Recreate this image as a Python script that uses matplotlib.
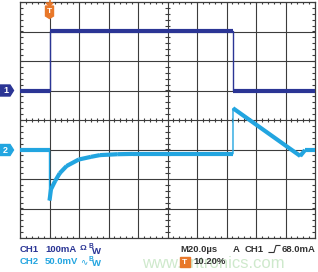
import matplotlib
matplotlib.use("Agg")
import matplotlib.pyplot as plt
import numpy as np
from matplotlib.collections import LineCollection
from matplotlib.patches import Polygon, Rectangle

# ---- data (time in divisions, amplitude in divisions) ----
ch1_t = [0.0, 1.0, 1.0, 7.22, 7.22, 10.0]
ch1_v = [1.0, 1.0, 3.03, 3.03, 1.0, 1.0]

ch2_t = [0.0, 1.0, 1.0, 1.05, 1.19, 1.35, 1.58, 1.99, 2.4, 2.71, 3.3, 3.83, 7.22, 7.22, 9.5, 9.66, 10.0]
ch2_v = [-1.02, -1.02, -2.73, -2.35, -2.07, -1.8, -1.56, -1.34, -1.25, -1.19, -1.16, -1.15, -1.15, 0.40, -1.22, -1.02, -1.02]

ch1_label = ["CH1", "100mA"]
ch2_label = ["CH2", "50.0mV"]
timebase = "M20.0\u00b5s"
trig_src = ["A", "CH1", "68.0mA"]
trig_pos = "10.20%"

NAVY = "#2b3595"
CYAN = "#22a5e0"
ORANGE = "#e8782a"
GRID = "#3c3c3c"

W, H = 318, 272
fig = plt.figure(figsize=(W / 100, H / 100), dpi=100)
fig.patch.set_facecolor("white")

L, R, T, B = 20, 315, 2, 238
ax = fig.add_axes([L / W, 1 - B / H, (R - L) / W, (B - T) / H])
ax.set_xlim(0, 10)
ax.set_ylim(-4, 4)
ax.set_xticks([]); ax.set_yticks([])
for s in ax.spines.values():
    s.set_color(GRID); s.set_linewidth(0.9)

# grid
for x in range(1, 10):
    ax.axvline(x, color=GRID, lw=0.8, zorder=1)
for y in range(-3, 4):
    ax.axhline(y, color=GRID, lw=0.8, zorder=1)

# minor ticks
tl = 0.1
sub = np.arange(0, 10.01, 0.2)
suby = np.arange(-4, 4.01, 0.2)
segs = []
for x in sub:
    segs.append([(x, 4), (x, 4 - tl * 0.8)])
    segs.append([(x, -4), (x, -4 + tl * 0.8)])
    segs.append([(x, -tl * 0.8), (x, tl * 0.8)])
for y in suby:
    segs.append([(0, y), (tl, y)])
    segs.append([(10, y), (10 - tl, y)])
    segs.append([(5 - tl, y), (5 + tl, y)])
ax.add_collection(LineCollection(segs, colors=GRID, linewidths=0.8, zorder=1))


def trace(t, v, color):
    ax.plot(t, v, color=color, lw=1.0, zorder=3, solid_joinstyle="miter")
    thick = [[(t[i], v[i]), (t[i + 1], v[i + 1])] for i in range(len(t) - 1) if t[i + 1] != t[i]]
    ax.add_collection(LineCollection(thick, colors=color, linewidths=3.0, capstyle="butt", zorder=3))


trace(ch1_t, ch1_v, NAVY)
trace(ch2_t, ch2_v, CYAN)

# ---- overlay in figure pixel coords ----
ov = fig.add_axes([0, 0, 1, 1], facecolor="none")
ov.set_xlim(0, W); ov.set_ylim(H, 0); ov.axis("off")

# channel markers
for y, c, lab in [(90.5, NAVY, "1"), (150, CYAN, "2")]:
    ov.add_patch(Polygon([(0, y - 5.5), (10, y - 5.5), (13.5, y), (10, y + 5.5), (0, y + 5.5)],
                         closed=True, color=c, zorder=5))
    ov.text(5.5, y + 0.3, lab, color="white", fontsize=6.5, fontweight="bold",
            ha="center", va="center", family="Liberation Sans", zorder=6)

# trigger marker at top
tx = 49.5
ov.plot([tx, tx], [0, 4], color=ORANGE, lw=1.2, zorder=5)
ov.add_patch(Polygon([(tx - 3.5, 3), (tx + 3.5, 3), (tx, 6)], closed=True, color=ORANGE, zorder=5))
ov.add_patch(Polygon([(tx - 4, 6), (tx + 4, 6), (tx + 4, 16), (tx, 18.5), (tx - 4, 16)],
                     closed=True, color=ORANGE, zorder=5))
ov.text(tx, 11.3, "T", color="white", fontsize=6, fontweight="bold", ha="center", va="center",
        family="Liberation Sans", zorder=6)

# watermark
ov.text(213, 263, "www.cntronics.com", color="#9fd49a", alpha=0.5, fontsize=12,
        ha="center", va="center", family="Liberation Sans", zorder=2)

fs = 6.8
fam = ["Liberation Sans", "DejaVu Sans"]
y1, y2 = 249, 262
ov.text(20, y1, ch1_label[0], color=NAVY, fontsize=fs, fontweight="bold", va="center", family=fam)
ov.text(45, y1, ch1_label[1], color=NAVY, fontsize=fs, fontweight="bold", va="center", family=fam)
ov.text(80, y1, "\u03a9", color=NAVY, fontsize=fs - 0.8, fontweight="bold", va="center", family=fam)
ov.text(88.5, y1 - 2.5, "B", color=NAVY, fontsize=4.8, fontweight="bold", va="center", family=fam)
ov.text(91.5, y1 + 2, "W", color=NAVY, fontsize=fs, fontweight="bold", va="center", family=fam)

ov.text(20, y2, ch2_label[0], color=CYAN, fontsize=fs, fontweight="bold", va="center", family=fam)
ov.text(45, y2, ch2_label[1], color=CYAN, fontsize=fs, fontweight="bold", va="center", family=fam)
ov.text(80.5, y2, "\u223f", color=CYAN, fontsize=fs - 0.5, va="center", family=["DejaVu Sans"])
ov.text(88.5, y2 - 2.5, "B", color=CYAN, fontsize=4.8, fontweight="bold", va="center", family=fam)
ov.text(91.5, y2 + 2, "W", color=CYAN, fontsize=fs, fontweight="bold", va="center", family=fam)

DARK = "#333333"
ov.text(180, y1, timebase, color=DARK, fontsize=fs, fontweight="bold", va="center", family=fam)
ov.text(233, y1, trig_src[0], color=DARK, fontsize=fs, fontweight="bold", va="center", family=fam)
ov.text(245, y1, trig_src[1], color=DARK, fontsize=fs, fontweight="bold", va="center", family=fam)
# rising-edge symbol
ov.plot([269, 274, 276, 280], [y1 + 3.5, y1 + 3.5, y1 - 3.5, y1 - 3.5], color=DARK, lw=0.8)
ov.text(282, y1, trig_src[2], color=DARK, fontsize=fs, fontweight="bold", va="center", family=fam)

ov.add_patch(Rectangle((180, 257), 9.5, 10, color=ORANGE, zorder=5))
ov.text(184.8, 262.3, "T", color="white", fontsize=6, fontweight="bold", ha="center", va="center",
        family="Liberation Sans", zorder=6)
ov.text(193, y2, trig_pos, color=DARK, fontsize=fs, fontweight="bold", va="center", family=fam, zorder=6)

fig.savefig("out.png", dpi=100, facecolor="white")
